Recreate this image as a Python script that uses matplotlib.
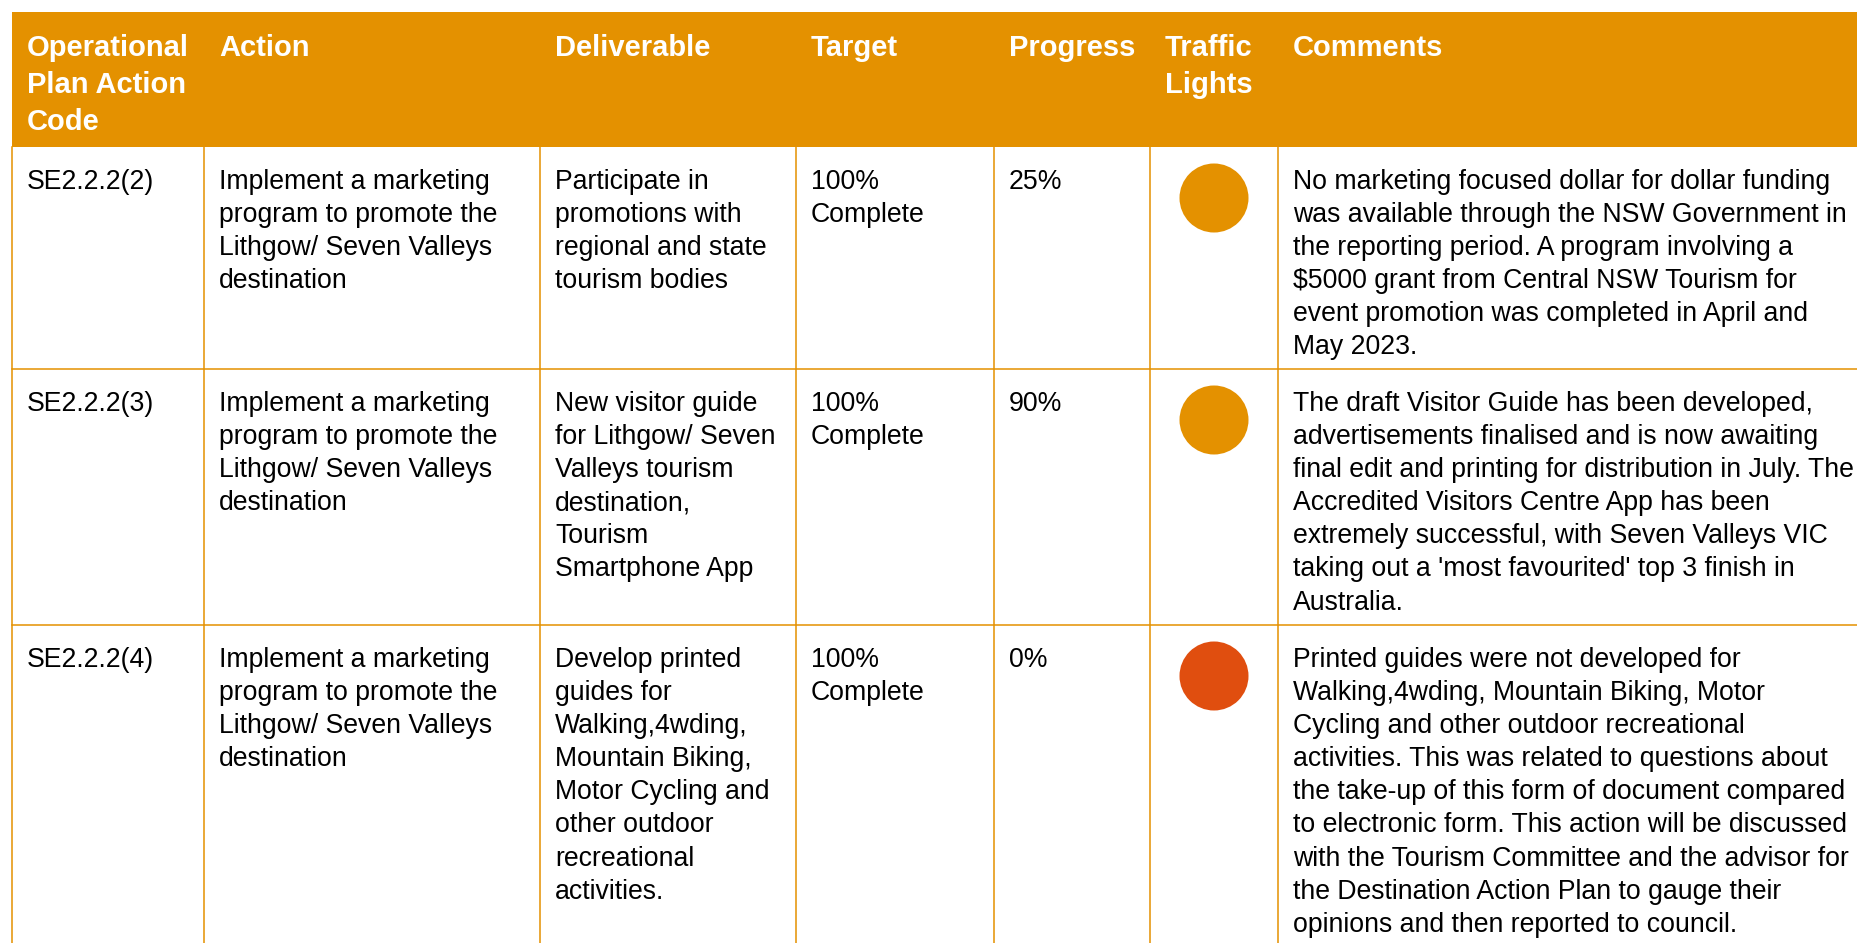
import matplotlib.pyplot as plt
from matplotlib.patches import Rectangle, Circle

plt.rcParams['font.family'] = ['Liberation Sans', 'DejaVu Sans']

# table content
headers = ["Operational\nPlan Action\nCode", "Action", "Deliverable", "Target",
           "Progress", "Traffic\nLights", "Comments"]

codes = ["SE2.2.2(2)", "SE2.2.2(3)", "SE2.2.2(4)"]

actions = ["Implement a marketing\nprogram to promote the\nLithgow/ Seven Valleys\ndestination"] * 3

deliverables = [
    "Participate in\npromotions with\nregional and state\ntourism bodies",
    "New visitor guide\nfor Lithgow/ Seven\nValleys tourism\ndestination,\nTourism\nSmartphone App",
    "Develop printed\nguides for\nWalking,4wding,\nMountain Biking,\nMotor Cycling and\nother outdoor\nrecreational\nactivities.",
]

targets = ["100%\nComplete"] * 3

progress = [25, 90, 0]

lights = ["amber", "amber", "red"]

comments = [
    "No marketing focused dollar for dollar funding\n"
    "was available through the NSW Government in\n"
    "the reporting period. A program involving a\n"
    "$5000 grant from Central NSW Tourism for\n"
    "event promotion was completed in April and\n"
    "May 2023.",
    "The draft Visitor Guide has been developed,\n"
    "advertisements finalised and is now awaiting\n"
    "final edit and printing for distribution in July. The\n"
    "Accredited Visitors Centre App has been\n"
    "extremely successful, with Seven Valleys VIC\n"
    "taking out a 'most favourited' top 3 finish in\n"
    "Australia.",
    "Printed guides were not developed for\n"
    "Walking,4wding, Mountain Biking, Motor\n"
    "Cycling and other outdoor recreational\n"
    "activities. This was related to questions about\n"
    "the take-up of this form of document compared\n"
    "to electronic form. This action will be discussed\n"
    "with the Tourism Committee and the advisor for\n"
    "the Destination Action Plan to gauge their\n"
    "opinions and then reported to council.",
]

# layout (pixels)
W, H = 1858, 943
col_x = [12, 204, 540, 796, 994, 1150, 1278]
head_top, head_bot = 12, 147
row_tops = [147, 369, 625]
pad = 15
orange = "#E49100"
light_col = {"amber": "#E49100", "red": "#E04E0F"}

fig = plt.figure(figsize=(W / 100, H / 100), dpi=100)
ax = fig.add_axes([0, 0, 1, 1])
ax.set_xlim(0, W)
ax.set_ylim(H, 0)
ax.set_aspect('equal')
ax.axis('off')


def put_text(x, y0, txt, step, size, **kw):
    for i, line in enumerate(txt.split("\n")):
        ax.text(x, y0 + i * step, line, ha='left', va='baseline', fontsize=size, **kw)


# header
ax.add_patch(Rectangle((col_x[0], head_top), W - col_x[0] + 5, head_bot - head_top,
                       facecolor=orange, edgecolor='none'))
for x, h in zip(col_x, headers):
    put_text(x + pad, head_top + 44.5, h, 36.5, 21, color='white', fontweight='bold')

# grid lines
for x in col_x:
    ax.plot([x, x], [head_bot, H + 5], color=orange, lw=1.1)
for y in row_tops[1:]:
    ax.plot([col_x[0], W + 5], [y, y], color=orange, lw=1.1)

# rows
for i, top in enumerate(row_tops):
    cells = [codes[i], actions[i], deliverables[i], targets[i],
             f"{progress[i]}%", None, comments[i]]
    for x, c in zip(col_x, cells):
        if c is not None:
            put_text(x + pad, top + 42, c, 33.1, 19.2, color='black')
    cx = (col_x[5] + col_x[6]) / 2
    ax.add_patch(Circle((cx, top + 51), 34.5, facecolor=light_col[lights[i]],
                        edgecolor='none'))

fig.savefig("out.png", dpi=100)
